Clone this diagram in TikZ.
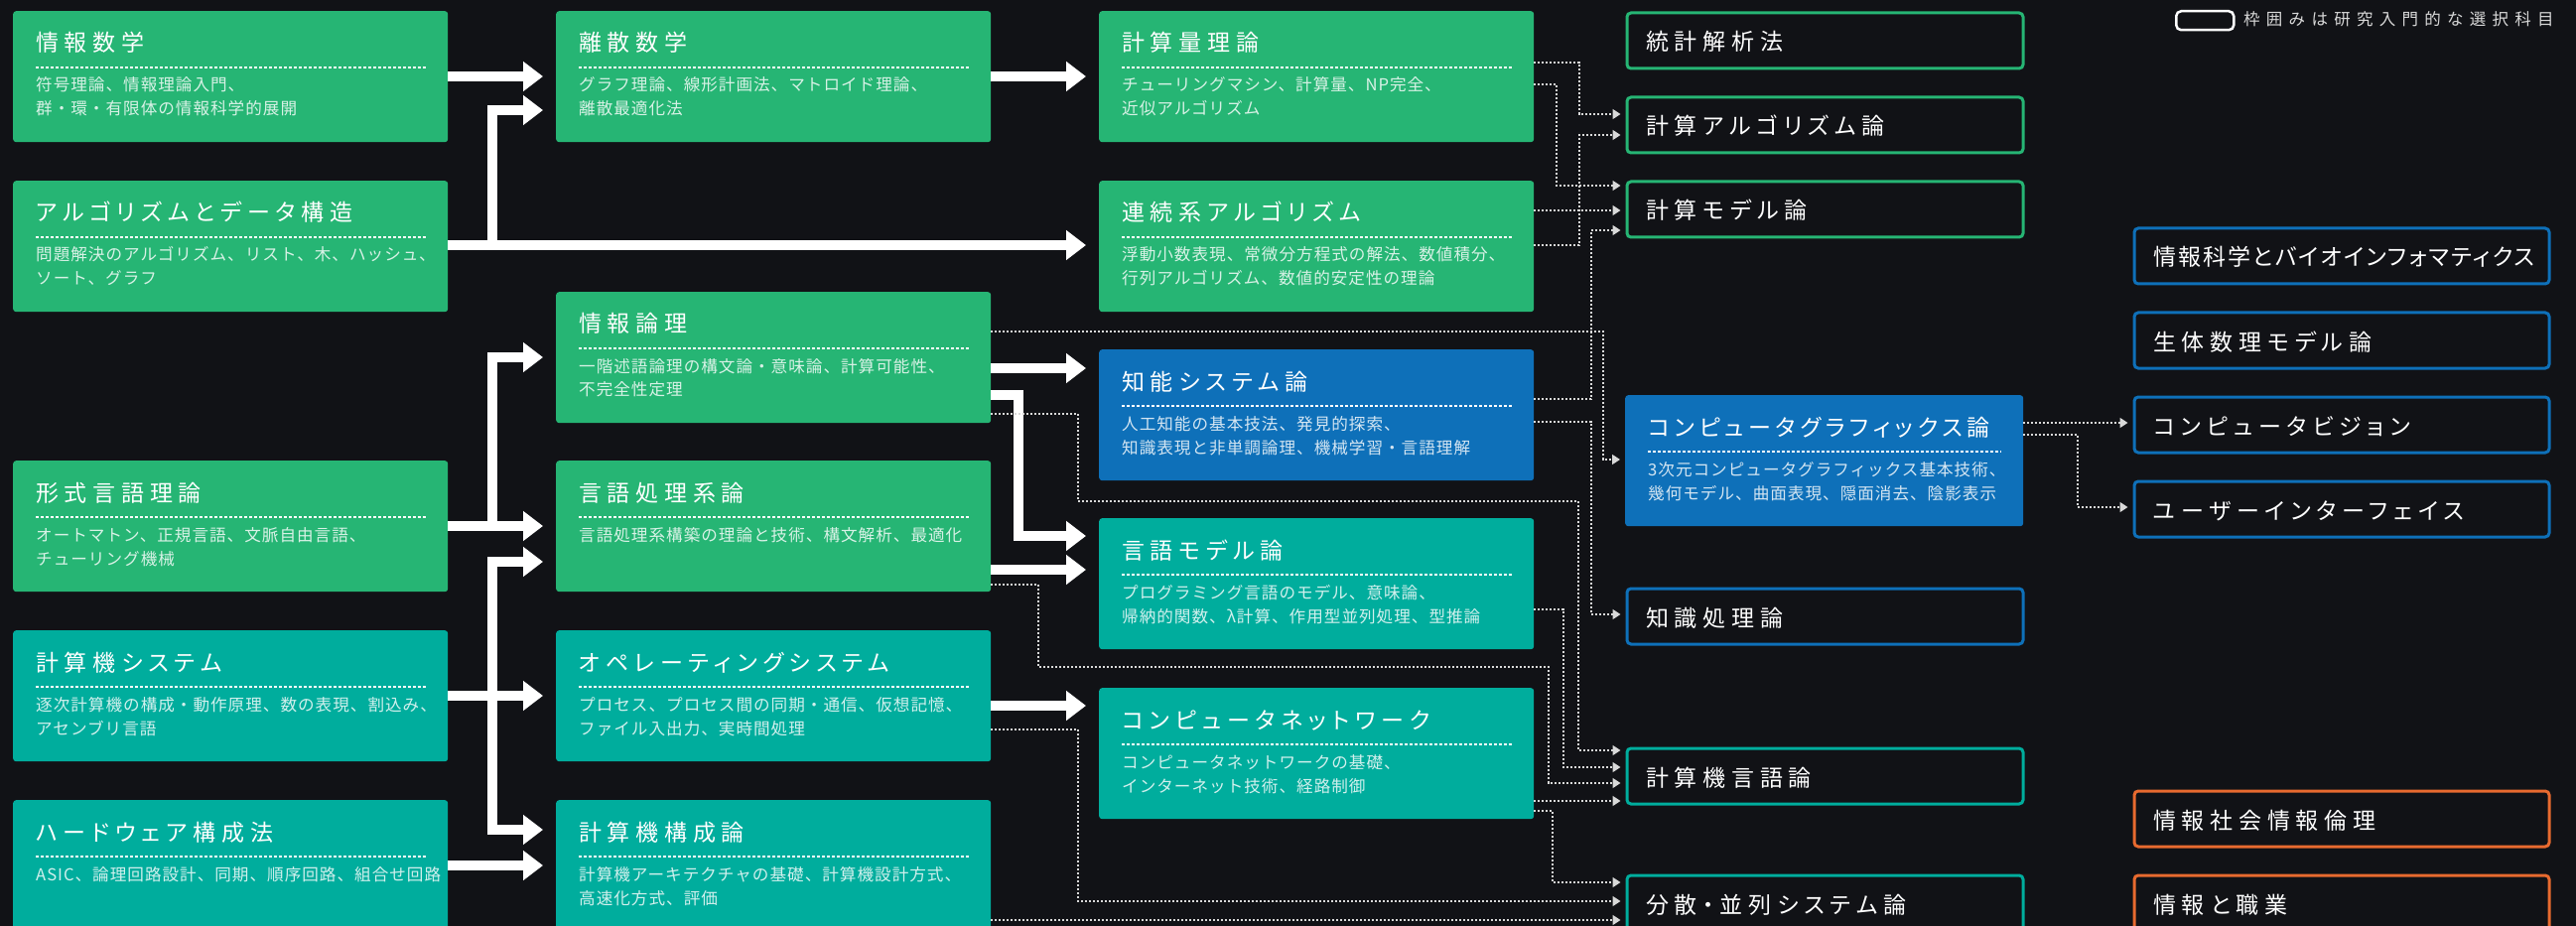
\documentclass[tikz,border=0pt]{standalone}
\usepackage{fontspec}
\usetikzlibrary{arrows.meta,calc}
\newfontfamily\ttlf[LetterSpace=25,RawFeature=+palt]{Noto Sans CJK JP}
\newfontfamily\bdyf[LetterSpace=6]{Noto Sans CJK JP}
\newfontfamily\legf[LetterSpace=38]{Noto Sans CJK JP}
\definecolor{bg}{HTML}{111216}
\definecolor{cgr}{HTML}{26B574}
\definecolor{ctl}{HTML}{00AD9D}
\definecolor{cbl}{HTML}{0E70B9}
\definecolor{cor}{HTML}{E86A2F}
\tikzset{
  fbx/.style={rounded corners=3pt, minimum height=132pt, inner sep=0pt, anchor=north west, draw=none},
  obx/.style={rounded corners=4pt, line width=3pt, minimum width=#1, minimum height=56pt, inner sep=0pt, anchor=north west, fill=bg},
  ttl/.style={text=white, font=\ttlf\fontsize{23}{27}\selectfont, inner sep=0pt, anchor=base west},
  bdy/.style={text=white, text opacity=0.82, font=\bdyf\fontsize{16.6}{24}\selectfont, inner sep=0pt, anchor=base west},
  idash/.style={draw=white, line width=1.2pt, dash pattern=on 3pt off 2pt},
  thk/.style={draw=white, line width=10pt, line join=miter, -{Triangle[length=20pt,width=29pt]}, shorten >=13pt},
  dotc/.style={draw=white!85!black, line width=1.6pt, dash pattern=on 2pt off 2pt, -{Triangle[length=8pt,width=10pt]}, shorten >=5pt}
}
\newcommand\mkFill[6][438pt]{%
  \node[fbx, minimum width=#1, fill=#5] (#2) at (#3,#4) {};
  \node[ttl] (#2-t) at ($(#2.north west)+(23,41)$) {#6};
  \draw[idash] ($(#2.north west)+(23,57)$) -- ($(#2.north east)+(-22,57)$);
}
\newcommand\mkBody[3]{%
  \node[bdy] (#1-b#2) at ($(#1.north west)+(23,{57+24*#2})$) {#3};
}
\newcommand\mkOut[6]{%
  \node[obx=#4pt, draw=#5] (#1) at ({#2+1.5},{#3+1.5}) {};
  \node[ttl] (#1-t) at ($(#1.north west)+(20.5,39.5)$) {#6};
}
\begin{document}
\begin{tikzpicture}[x=1pt,y=-1pt]
\fill[bg] (0,0) rectangle (2595,933);
\useasboundingbox (0,0) rectangle (2595,933);

% column 1
\mkFill{jm}{13}{11}{cgr}{情報数学}
\mkBody{jm}{1}{符号理論、情報理論入門、}
\mkBody{jm}{2}{群・環・有限体の情報科学的展開}
\mkFill{alg}{13}{182}{cgr}{アルゴリズムとデータ構造}
\mkBody{alg}{1}{問題解決のアルゴリズム、リスト、木、ハッシュ、}
\mkBody{alg}{2}{ソート、グラフ}
\mkFill{fl}{13}{464}{cgr}{形式言語理論}
\mkBody{fl}{1}{オートマトン、正規言語、文脈自由言語、}
\mkBody{fl}{2}{チューリング機械}
\mkFill{cs}{13}{635}{ctl}{計算機システム}
\mkBody{cs}{1}{逐次計算機の構成・動作原理、数の表現、割込み、}
\mkBody{cs}{2}{アセンブリ言語}
\mkFill{hw}{13}{806}{ctl}{ハードウェア構成法}
\mkBody{hw}{1}{ASIC、論理回路設計、同期、順序回路、組合せ回路}

% column 2
\mkFill{ds}{560}{11}{cgr}{離散数学}
\mkBody{ds}{1}{グラフ理論、線形計画法、マトロイド理論、}
\mkBody{ds}{2}{離散最適化法}
\mkFill{il}{560}{294}{cgr}{情報論理}
\mkBody{il}{1}{一階述語論理の構文論・意味論、計算可能性、}
\mkBody{il}{2}{不完全性定理}
\mkFill{lp}{560}{464}{cgr}{言語処理系論}
\mkBody{lp}{1}{言語処理系構築の理論と技術、構文解析、最適化}
\mkFill{os}{560}{635}{ctl}{オペレーティングシステム}
\mkBody{os}{1}{プロセス、プロセス間の同期・通信、仮想記憶、}
\mkBody{os}{2}{ファイル入出力、実時間処理}
\mkFill{ca}{560}{806}{ctl}{計算機構成論}
\mkBody{ca}{1}{計算機アーキテクチャの基礎、計算機設計方式、}
\mkBody{ca}{2}{高速化方式、評価}

% column 3
\mkFill{ct}{1107}{11}{cgr}{計算量理論}
\mkBody{ct}{1}{チューリングマシン、計算量、NP完全、}
\mkBody{ct}{2}{近似アルゴリズム}
\mkFill{ca2}{1107}{182}{cgr}{連続系アルゴリズム}
\mkBody{ca2}{1}{浮動小数表現、常微分方程式の解法、数値積分、}
\mkBody{ca2}{2}{行列アルゴリズム、数値的安定性の理論}
\mkFill{is}{1107}{352}{cbl}{知能システム論}
\mkBody{is}{1}{人工知能の基本技法、発見的探索、}
\mkBody{is}{2}{知識表現と非単調論理、機械学習・言語理解}
\mkFill{lm}{1107}{522}{ctl}{言語モデル論}
\mkBody{lm}{1}{プログラミング言語のモデル、意味論、}
\mkBody{lm}{2}{帰納的関数、λ計算、作用型並列処理、型推論}
\mkFill{cn}{1107}{693}{ctl}{コンピュータネットワーク}
\mkBody{cn}{1}{コンピュータネットワークの基礎、}
\mkBody{cn}{2}{インターネット技術、経路制御}

% column 4
\mkOut{st}{1636}{10}{399}{cgr}{統計解析法}
\mkOut{cal}{1636}{95}{399}{cgr}{計算アルゴリズム論}
\mkOut{cm}{1636}{180}{399}{cgr}{計算モデル論}
\mkFill[401pt]{cg}{1637}{398}{cbl}{{\addfontfeature{LetterSpace=20}コンピュータグラフィックス論}}
\mkBody{cg}{1}{3次元コンピュータグラフィックス基本技術、}
\mkBody{cg}{2}{幾何モデル、曲面表現、隠面消去、陰影表示}
\mkOut{kp}{1636}{590}{399}{cbl}{知識処理論}
\mkOut{cl}{1636}{751}{399}{ctl}{計算機言語論}
\mkOut{dp}{1636}{879}{399}{ctl}{分散・並列システム論}

% column 5
\mkOut{bio}{2147}{227}{418}{cbl}{{\addfontfeature{LetterSpace=9}情報科学とバイオインフォマティクス}}
\mkOut{bm}{2147}{312}{418}{cbl}{生体数理モデル論}
\mkOut{cv}{2147}{397}{418}{cbl}{コンピュータビジョン}
\mkOut{ui}{2147}{482}{418}{cbl}{ユーザーインターフェイス}
\mkOut{soc}{2147}{794}{418}{cor}{情報社会情報倫理}
\mkOut{job}{2147}{879}{418}{cor}{情報と職業}

% legend
\node[draw=white, line width=2.5pt, rounded corners=5pt, minimum width=58pt, minimum height=19pt, inner sep=0pt, anchor=north west] (leg) at (2191,10) {};
\node[font=\legf\fontsize{16.5}{20}\selectfont, text=white!85!black, inner sep=0pt, anchor=base west] (leg-t) at (2260,26) {枠囲みは研究入門的な選択科目};

% thick connectors
\coordinate (ja) at (496,247);
\coordinate (jf) at (496,530);
\coordinate (jc) at (496,701);
\draw[thk] (jm.east |- 0,77) -- (ds.west |- 0,77);
\draw[thk] (alg.east |- 0,247) -- (ca2.west |- 0,247);
\draw[thk] (ja) |- (ds.west |- 0,111);
\draw[thk] (fl.east |- 0,530) -- (lp.west |- 0,530);
\draw[thk] (jf) |- (il.west |- 0,360);
\draw[thk] (cs.east |- 0,701) -- (os.west |- 0,701);
\draw[thk] (jc) |- (lp.west |- 0,566);
\draw[thk] (jc) |- (ca.west |- 0,836);
\draw[thk] (hw.east |- 0,872) -- (ca.west |- 0,872);
\draw[thk] (ds.east |- 0,77) -- (ct.west |- 0,77);
\draw[thk] (il.east |- 0,371) -- (is.west |- 0,371);
\draw[thk] (il.east |- 0,398) -- (1026,398) |- (lm.west |- 0,540);
\draw[thk] (lp.east |- 0,574) -- (lm.west |- 0,574);
\draw[thk] (os.east |- 0,711) -- (cn.west |- 0,711);

% dotted connectors
\draw[dotc] (ct.east |- 0,63) -- (1591,63) |- (cal.west |- 0,115);
\draw[dotc] (ca2.east |- 0,247) -- (1591,247) |- (cal.west |- 0,136);
\draw[dotc] (ct.east |- 0,85) -- (1568,85) |- (cm.west |- 0,187);
\draw[dotc] (ca2.east |- 0,212) -- (cm.west |- 0,212);
\draw[dotc] (is.east |- 0,402) -- (1603,402) |- (cm.west |- 0,232);
\draw[dotc] (il.east |- 0,334) -- (1615,334) |- (cg.west |- 0,463);
\draw[dotc] (is.east |- 0,425) -- (1603,425) |- (kp.west |- 0,619);
\draw[dotc] (il.east |- 0,417) -- (1086,417) -- (1086,505) -- (1590,505) |- (cl.west |- 0,756);
\draw[dotc] (lm.east |- 0,614) -- (1575,614) |- (cl.west |- 0,773);
\draw[dotc] (lp.east |- 0,589) -- (1046,589) -- (1046,672) -- (1560,672) |- (cl.west |- 0,789);
\draw[dotc] (cn.east |- 0,807) -- (cl.west |- 0,807);
\draw[dotc] (cn.east |- 0,817) -- (1564,817) |- (dp.west |- 0,889);
\draw[dotc] (os.east |- 0,735) -- (1086,735) |- (dp.west |- 0,908);
\draw[dotc] (ca.east |- 0,927) -- (dp.west |- 0,927);
\draw[dotc] (cg.east |- 0,426) -- (cv.west |- 0,426);
\draw[dotc] (cg.east |- 0,438) -- (2093,438) |- (ui.west |- 0,511);
\end{tikzpicture}
\end{document}
